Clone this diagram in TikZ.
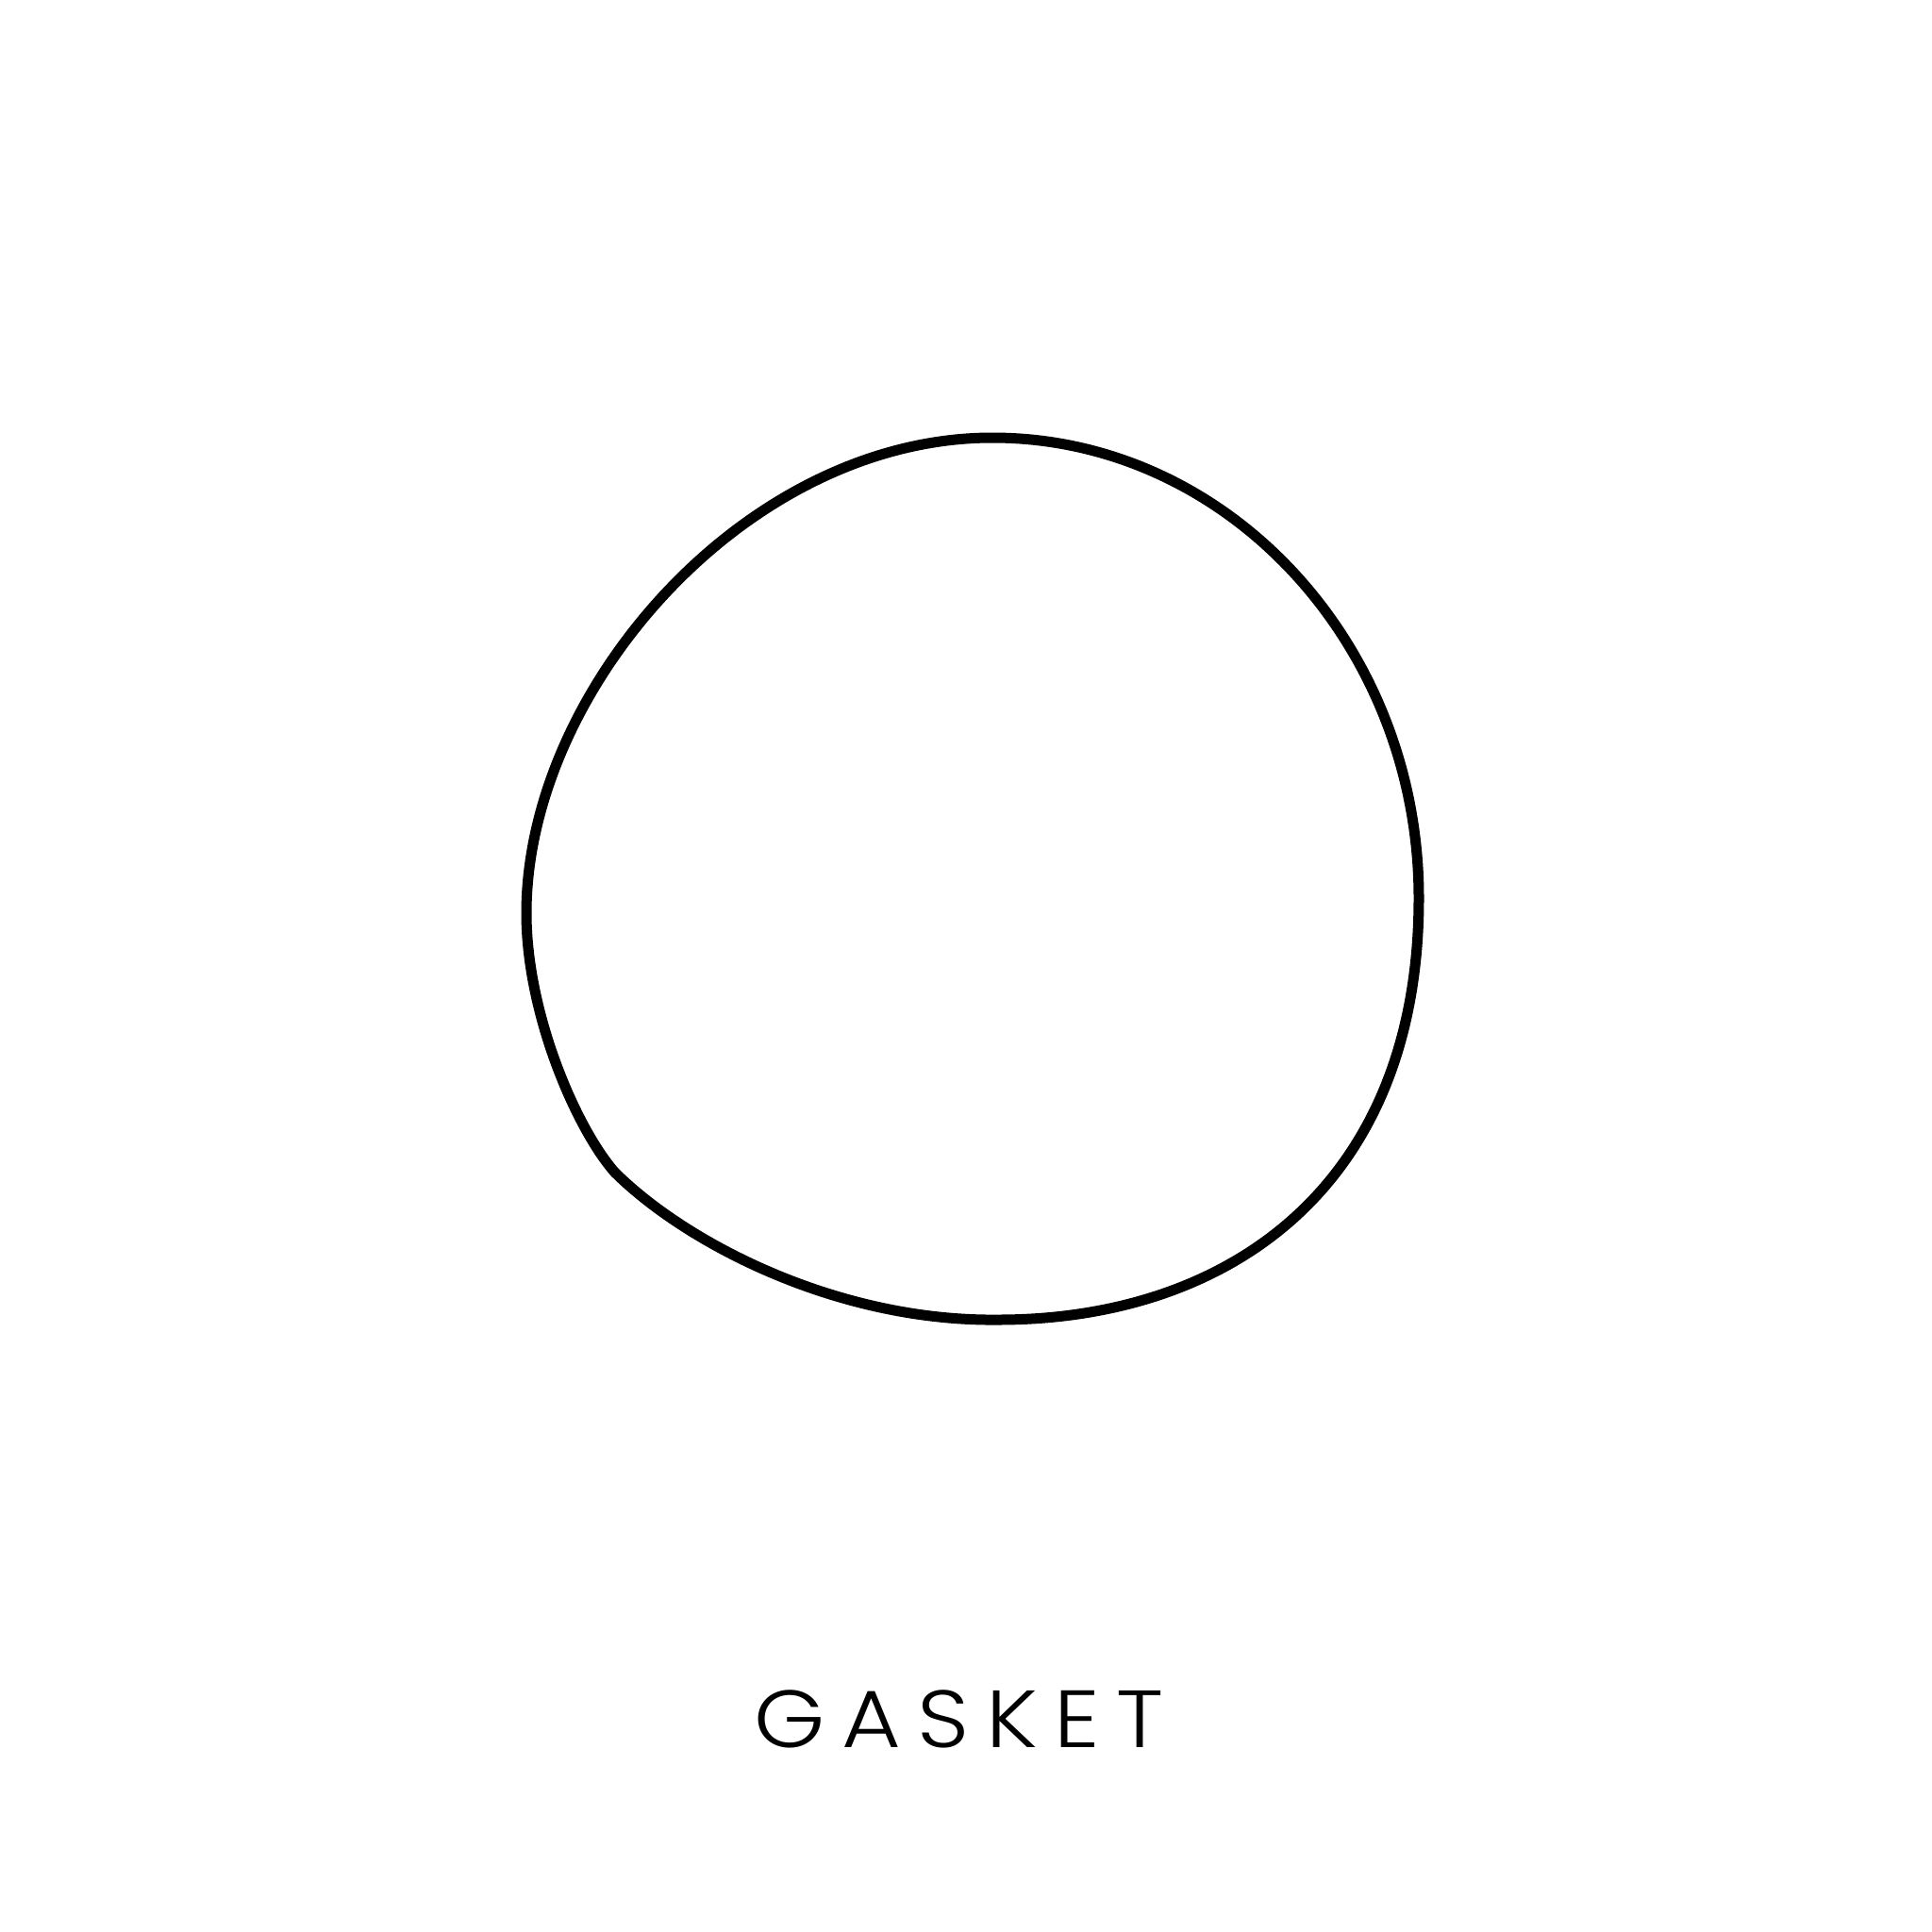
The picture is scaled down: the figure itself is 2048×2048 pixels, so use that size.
\documentclass[tikz,border=0pt]{standalone}
\usepackage{fontspec}
\IfFontExistsTF{Poppins Light}
  {\newfontfamily\labelfont[LetterSpace=20.5,FakeStretch=1.12]{Poppins Light}}
  {\newfontfamily\labelfont[LetterSpace=20.5,FakeStretch=1.12]{Poppins}}
\tikzset{
  gasketline/.style={line width=11pt, draw=black, line join=round},
  caption/.style={font=\labelfont\fontsize{86pt}{86pt}\selectfont, inner sep=0pt, anchor=base west}
}
\begin{document}
\begin{tikzpicture}[x=1pt,y=-1pt]
\useasboundingbox[fill=white] (0,0) rectangle (2048,2048);
\coordinate (T) at (1052,464);
\coordinate (R) at (1504,952);
\coordinate (B) at (1058,1399);
\coordinate (P) at (652,1243);
\coordinate (Lf) at (558,968);
\draw[gasketline] (T)
  .. controls (1302,464) and (1504,684) .. (R)
  .. controls (1504,1260) and (1300,1399) .. (B)
  .. controls (890,1401) and (730,1320) .. (P)
  .. controls (612,1198) and (558,1076) .. (Lf)
  .. controls (558,732) and (790,464) .. (T) -- cycle;
\node[caption] (label) at (799,1852) {GASKET};
\end{tikzpicture}
\end{document}
